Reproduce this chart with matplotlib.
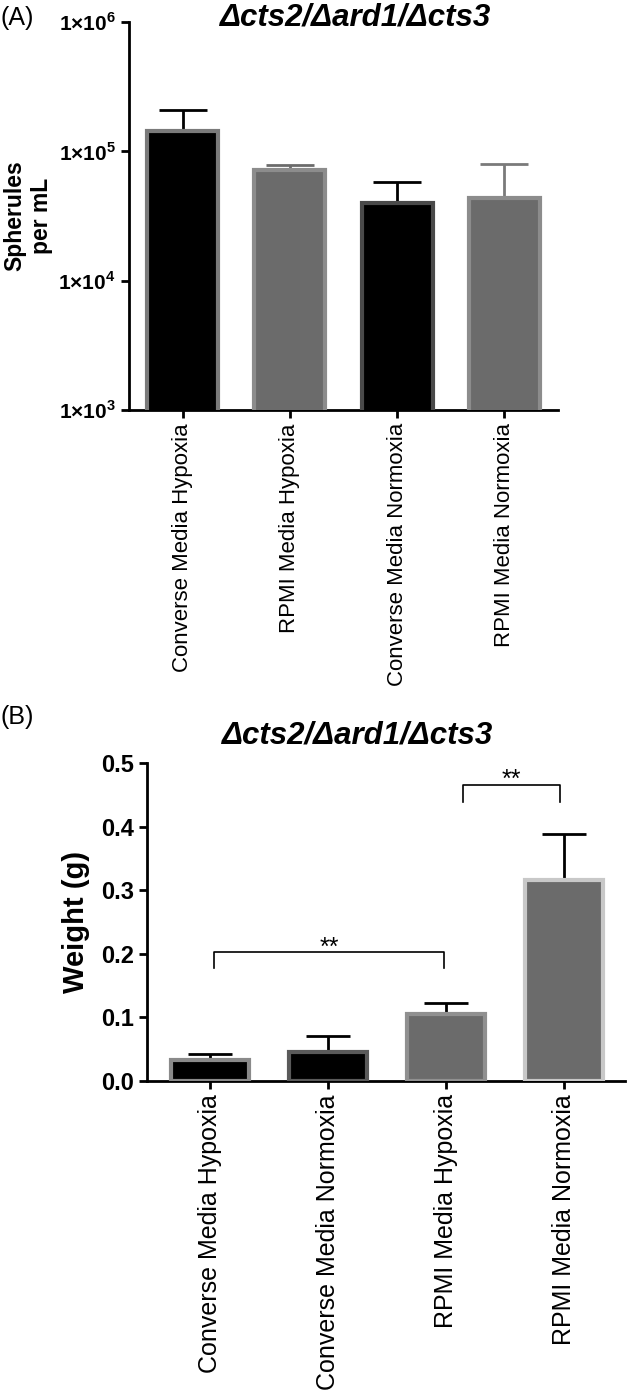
import numpy as np
import matplotlib
matplotlib.use("Agg")
from matplotlib import pyplot as plt

plt.rcParams['font.family'] = ['Liberation Sans', 'DejaVu Sans']
plt.rcParams['mathtext.fontset'] = 'custom'
plt.rcParams['mathtext.rm'] = 'Liberation Sans:bold'
plt.rcParams['mathtext.bf'] = 'Liberation Sans:bold'

title_txt = "\u0394cts2/\u0394ard1/\u0394cts3"

# panel A data (spherules per mL, log scale)
a_labels = ["Converse Media Hypoxia", "RPMI Media Hypoxia",
            "Converse Media Normoxia", "RPMI Media Normoxia"]
a_means = [1.44e5, 7.2e4, 4.0e4, 4.35e4]
a_upper = [2.08e5, 7.9e4, 5.8e4, 8.0e4]
a_fill = ['#000000', '#6b6b6b', '#000000', '#6b6b6b']
a_edge = ['#7a7a7a', '#8c8c8c', '#4a4a4a', '#8c8c8c']
a_errc = ['#000000', '#6b6b6b', '#000000', '#7a7a7a']

# panel B data (weight, g)
b_labels = ["Converse Media Hypoxia", "Converse Media Normoxia",
            "RPMI Media Hypoxia", "RPMI Media Normoxia"]
b_means = [0.033, 0.046, 0.106, 0.316]
b_upper = [0.042, 0.070, 0.122, 0.389]
b_fill = ['#000000', '#000000', '#6b6b6b', '#6b6b6b']
b_edge = ['#8a8a8a', '#5a5a5a', '#909090', '#c8c8c8']

W, H = 630, 1399
fig = plt.figure(figsize=(W / 100, H / 100), dpi=100)


def rect(l, r, t, b):
    return [l / W, 1 - b / H, (r - l) / W, (b - t) / H]


def style(ax):
    for s in ['top', 'right']:
        ax.spines[s].set_visible(False)
    for s in ['left', 'bottom']:
        ax.spines[s].set_linewidth(2)
    ax.tick_params(width=2, length=6)


# ---- panel A ----
ax1 = fig.add_axes(rect(129, 558, 22, 410))
x = np.arange(len(a_means))
ax1.bar(x, a_means, width=0.66, color=a_fill, edgecolor=a_edge, linewidth=3,
        log=True, zorder=3)
for i in range(len(x)):
    ax1.errorbar(x[i], a_means[i], yerr=[[0], [a_upper[i] - a_means[i]]],
                 fmt='none', ecolor=a_errc[i], elinewidth=2, capsize=17,
                 capthick=2, zorder=2)
ax1.set_yscale('log')
ax1.set_ylim(1e3, 1e6)
ax1.set_xlim(-0.5, 3.5)
ax1.set_yticks([1e3, 1e4, 1e5, 1e6])
ax1.set_yticklabels([r'$1{\times}10^{%d}$' % k for k in [3, 4, 5, 6]],
                    fontsize=15)
ax1.minorticks_off()
ax1.set_xticks(x)
ax1.set_xticklabels(a_labels, rotation=90, fontsize=16)
ax1.set_ylabel('Spherules\nper mL', fontsize=16.5, fontweight='bold',
               labelpad=4)
style(ax1)

# ---- panel B ----
ax2 = fig.add_axes(rect(147, 625, 763, 1081))
x = np.arange(len(b_means))
ax2.bar(x, b_means, width=0.66, color=b_fill, edgecolor=b_edge, linewidth=3,
        zorder=3)
ax2.errorbar(x, b_means, yerr=[[0] * 4, np.subtract(b_upper, b_means)],
             fmt='none', ecolor='black', elinewidth=2, capsize=16,
             capthick=2, zorder=2)
ax2.set_ylim(0, 0.5)
ax2.set_xlim(-0.53, 3.52)
ax2.set_yticks([0.0, 0.1, 0.2, 0.3, 0.4, 0.5])
ax2.set_yticklabels(['0.0', '0.1', '0.2', '0.3', '0.4', '0.5'],
                    fontsize=17, fontweight='bold')
ax2.set_xticks(x)
ax2.set_xticklabels(b_labels, rotation=90, fontsize=18)
ax2.set_ylabel('Weight (g)', fontsize=21, fontweight='bold', labelpad=8)
style(ax2)

# significance brackets
for x0, x1, y, leg in [(0.04, 1.99, 0.203, 0.177), (2.15, 2.97, 0.466, 0.438)]:
    ax2.plot([x0, x0, x1, x1], [leg, y, y, leg], color='black', lw=1.2,
             clip_on=False)
    ax2.text((x0 + x1) / 2, y - 0.012, '**', ha='center', va='bottom',
             fontsize=18)

# titles and panel letters
fig.text(356 / W, 1 - 18 / H, title_txt, ha='center', va='center',
         fontsize=22.5, fontweight='bold', fontstyle='italic')
fig.text(358 / W, 1 - 735 / H, title_txt, ha='center', va='center',
         fontsize=22.5, fontweight='bold', fontstyle='italic')
fig.text(0.0, 1 - 18 / H, '(A)', ha='left', va='center', fontsize=18)
fig.text(0.0, 1 - 717 / H, '(B)', ha='left', va='center', fontsize=18)

plt.savefig('out.png', dpi=100)
